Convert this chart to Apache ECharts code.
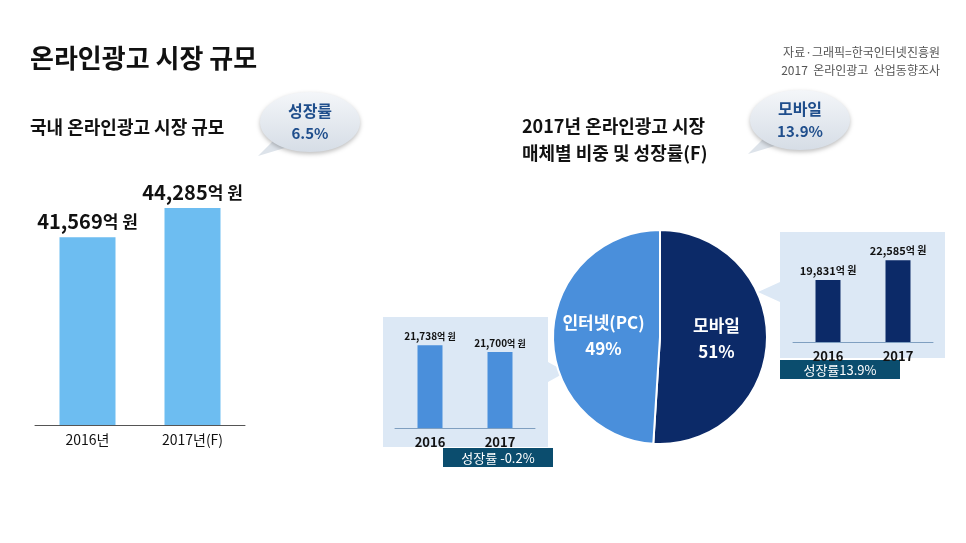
<!DOCTYPE html>
<html><head><meta charset="utf-8">
<script src="https://cdn.jsdelivr.net/npm/echarts@6/dist/echarts.min.js"></script>
<style>html,body{margin:0;background:#fff}#c{width:966px;height:543px}</style>
</head><body><div id="c"></div>
<script>
const years = ['2016년', '2017년(F)'];
const totalValues = [41569, 44285];
const insetYears = ['2016', '2017'];
const mobileValues = [19831, 22585];
const pcValues = [21738, 21700];
const shareNames = ['모바일', '인터넷(PC)'];
const shareValues = [51, 49];

const F = '"Noto Sans CJK KR", sans-serif';
const chart = echarts.init(document.getElementById('c'));
const fmt = v => v.toLocaleString('en-US');

function bubble(cx, cy, l1, l2) {
  return [
    { type: 'polygon', shape: { points: [[cx - 30, cy + 12], [cx - 52, cy + 34], [cx - 12, cy + 22]] },
      style: { fill: '#dde3ea' } },
    { type: 'ellipse', shape: { cx, cy, rx: 50, ry: 30 },
      style: { fill: new echarts.graphic.LinearGradient(0, 0, 0, 1, [{ offset: 0, color: '#f4f6f9' }, { offset: 1, color: '#d6dde6' }]),
        shadowBlur: 4, shadowColor: 'rgba(0,0,0,0.25)', shadowOffsetY: 2 } },
    { type: 'text', x: cx, y: cy - 11, style: { text: l1, fill: '#1f4e8c', font: 'bold 16px ' + F, align: 'center', verticalAlign: 'middle' } },
    { type: 'text', x: cx, y: cy + 11, style: { text: l2, fill: '#1f4e8c', font: 'bold 15px ' + F, align: 'center', verticalAlign: 'middle' } }
  ];
}

const valLabel = (size, small) => ({
  show: true, position: 'top', distance: 6,
  formatter: p => '{a|' + fmt(p.value) + '}{b|억 원}',
  rich: { a: { fontFamily: F, fontWeight: 'bold', fontSize: size, color: '#111' },
          b: { fontFamily: F, fontWeight: 'bold', fontSize: small, color: '#111' } }
});

const hiddenY = (min, max, idx) => ({ type: 'value', gridIndex: idx, min, max, show: false, splitLine: { show: false } });
const catX = (idx, data, size) => ({
  type: 'category', gridIndex: idx, data,
  axisLine: { lineStyle: { color: idx === 0 ? '#555' : '#7f9fc0' } }, axisTick: { show: false },
  axisLabel: { fontFamily: F, fontSize: size, color: '#111', fontWeight: idx === 0 ? 'normal' : 'bold', margin: 8 }
});

chart.setOption({
  animation: false,
  grid: [
    { left: 35, width: 210, top: 147, bottom: 118 },
    { left: 793, width: 140, top: 250, bottom: 201 },
    { left: 395, width: 140, top: 325, bottom: 115 }
  ],
  xAxis: [catX(0, years, 14), catX(1, insetYears, 13), catX(2, insetYears, 13)],
  yAxis: [hiddenY(24000, 50000, 0), hiddenY(11200, 24000, 1), hiddenY(21280, 21850, 2)],
  graphic: [
    { type: 'text', x: 30, y: 58, style: { text: '온라인광고 시장 규모', fill: '#111', font: 'bold 26px ' + F, verticalAlign: 'middle' } },
    { type: 'text', x: 940, y: 52, style: { text: '자료·그래픽=한국인터넷진흥원', fill: '#555', font: '12px ' + F, align: 'right', verticalAlign: 'middle' } },
    { type: 'text', x: 940, y: 70, style: { text: '2017  온라인광고  산업동향조사', fill: '#555', font: '12px ' + F, align: 'right', verticalAlign: 'middle' } },
    { type: 'text', x: 30, y: 127, style: { text: '국내 온라인광고 시장 규모', fill: '#111', font: 'bold 18px ' + F, verticalAlign: 'middle' } },
    { type: 'text', x: 522, y: 140, style: { text: '2017년 온라인광고 시장\n매체별 비중 및 성장률(F)', fill: '#111', font: 'bold 18px ' + F, verticalAlign: 'middle', lineHeight: 27 } },
    ...bubble(310, 122, '성장률', '6.5%'),
    ...bubble(800, 120, '모바일', '13.9%'),
    { type: 'polygon', z: -1, shape: { points: [[780, 232], [945, 232], [945, 358], [780, 358], [780, 302], [758, 292], [780, 282]] }, style: { fill: '#dce8f5' } },
    { type: 'rect', shape: { x: 780, y: 360, width: 120, height: 19 }, style: { fill: '#0b4d6e' } },
    { type: 'text', x: 840, y: 370, style: { text: '성장률13.9%', fill: '#fff', font: '13px ' + F, align: 'center', verticalAlign: 'middle' } },
    { type: 'polygon', z: -1, shape: { points: [[383, 317], [548, 317], [548, 362], [566, 372], [548, 382], [548, 447], [383, 447]] }, style: { fill: '#dce8f5' } },
    { type: 'rect', shape: { x: 443, y: 448, width: 110, height: 19 }, style: { fill: '#0b4d6e' } },
    { type: 'text', x: 498, y: 458, style: { text: '성장률 -0.2%', fill: '#fff', font: '13px ' + F, align: 'center', verticalAlign: 'middle' } }
  ],
  series: [
    { type: 'bar', xAxisIndex: 0, yAxisIndex: 0, data: totalValues, barWidth: 56,
      itemStyle: { color: '#6dbdf1' }, label: valLabel(20, 17) },
    { type: 'bar', xAxisIndex: 1, yAxisIndex: 1, data: mobileValues, barWidth: 25,
      itemStyle: { color: '#0c2a68' }, label: Object.assign(valLabel(11, 10), { distance: 4 }) },
    { type: 'bar', xAxisIndex: 2, yAxisIndex: 2, data: pcValues, barWidth: 25,
      itemStyle: { color: '#4a8fdb' }, label: Object.assign(valLabel(10, 9), { distance: 4 }) },
    { type: 'pie', center: [660, 337], radius: [0, 107], startAngle: 90, clockwise: true,
      data: shareNames.map((n, i) => ({ name: n, value: shareValues[i] })),
      color: ['#0c2a68', '#4a8fdb'],
      itemStyle: { borderColor: '#fff', borderWidth: 2 },
      label: { position: 'inside', formatter: '{b}\n{c}%', color: '#fff', fontFamily: F, fontWeight: 'bold', fontSize: 17, lineHeight: 26 },
      labelLine: { show: false } }
  ]
});
</script></body></html>
